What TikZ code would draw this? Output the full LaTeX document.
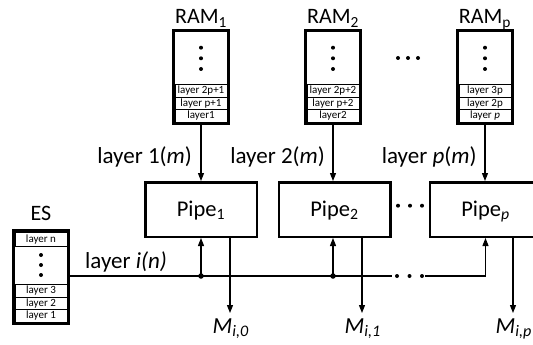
\documentclass[tikz,border=0pt]{standalone}
\usepackage{fontspec}
\setmainfont{Carlito}
\usetikzlibrary{arrows.meta}
\begin{document}
\begin{tikzpicture}[x=1pt,y=-1pt,
  big/.style={font=\fontsize{22}{26}\selectfont, inner sep=0},
  lab/.style={font=\fontsize{23}{27}\selectfont, inner sep=0},
  rowbox/.style={draw, line width=0.9pt, minimum width=52pt, minimum height=12.5pt, inner sep=0, font=\fontsize{11}{11}\selectfont},
  ramframe/.style={draw, line width=3pt, minimum width=55pt, minimum height=93pt, inner sep=0},
  pipebox/.style={draw, line width=2.5pt, minimum width=111.5pt, minimum height=54.5pt, inner sep=0, font=\fontsize{22.5}{26}\selectfont, text height=14pt, text depth=0pt},
  conn/.style={line width=1.1pt},
  arr/.style={conn, -{Triangle[length=8pt,width=6pt]}},
  dotmark/.style={circle, fill, inner sep=0, minimum size=4pt},
  jdot/.style={circle, fill, inner sep=0, minimum size=5.5pt}
]
\useasboundingbox (0,0) rectangle (533,345);
\clip (0,0) rectangle (533,345);

% RAM frames
\node[ramframe] (ram1) at (201,77) {};
\node[ramframe] (ram2) at (333,77) {};
\node[ramframe] (ramp) at (485,77) {};
\node[big, anchor=base] (ramlab1) at (201,24) {RAM\textsubscript{1}};
\node[big, anchor=base] (ramlab2) at (333,24) {RAM\textsubscript{2}};
\node[big, anchor=base] (ramlabp) at (485,24) {RAM\textsubscript{p}};

% RAM rows
\node[rowbox] (r1a) at (201,115.75) {layer1};
\node[rowbox] (r1b) at (201,103.25) {layer p+1};
\node[rowbox] (r1c) at (201,90.75) {layer 2p+1};
\node[rowbox] (r2a) at (333,115.75) {layer2};
\node[rowbox] (r2b) at (333,103.25) {layer p+2};
\node[rowbox] (r2c) at (333,90.75) {layer 2p+2};
\node[rowbox] (rpa) at (485,115.75) {layer \textit{p}};
\node[rowbox] (rpb) at (485,103.25) {layer 2p};
\node[rowbox] (rpc) at (485,90.75) {layer 3p};

% vertical dots in RAM
\foreach \c/\n in {201/a,333/b,485/c}{
  \node[dotmark] (vd1\n) at (\c,47.7) {};
  \node[dotmark] (vd2\n) at (\c,58.3) {};
  \node[dotmark] (vd3\n) at (\c,69) {};
}

% horizontal dots
\node[dotmark] (hd1) at (398,58) {};
\node[dotmark] (hd2) at (408,58) {};
\node[dotmark] (hd3) at (418,58) {};
\node[dotmark] (pd1) at (398,205.7) {};
\node[dotmark] (pd2) at (410,205.7) {};
\node[dotmark] (pd3) at (422,205.7) {};
\node[dotmark] (bd1) at (397,276) {};
\node[dotmark] (bd2) at (409.5,276) {};
\node[dotmark] (bd3) at (422,276) {};

% Pipes
\node[pipebox] (pipe1) at (201,209.5) {Pipe\textsubscript{1}};
\node[pipebox] (pipe2) at (334.5,209.5) {Pipe\textsubscript{2}};
\node[pipebox] (pipep) at (485.5,209.5) {Pipe\textsubscript{\textit{p}}};

% RAM to pipe
\draw[arr] (ram1.south) -- (pipe1.north -| ram1.south);
\draw[arr] (ram2.south) -- (pipe2.north -| ram2.south);
\draw[arr] (ramp.south) -- (pipep.north -| ramp.south);
\node[lab, anchor=base east] (l1) at (192,163) {layer 1(\textit{m})};
\node[lab, anchor=base east] (l2) at (325,163) {layer 2(\textit{m})};
\node[lab, anchor=base east] (lp) at (476.7,163) {layer \textit{p}(\textit{m})};

% ES
\node[ramframe, minimum height=92.7pt] (es) at (41,277.2) {};
\node[big, anchor=base] (eslab) at (41,220.5) {ES};
\node[rowbox, minimum height=13.8pt] (esn) at (41,239.2) {layer n};
\node[rowbox] (es3) at (41,290.75) {layer 3};
\node[rowbox] (es2) at (41,303.25) {layer 2};
\node[rowbox] (es1) at (41,315.75) {layer 1};
\node[dotmark] (ed1) at (41,255) {};
\node[dotmark] (ed2) at (41,265) {};
\node[dotmark] (ed3) at (41,275) {};

% bus
\coordinate (j1) at (201,276);
\coordinate (j2) at (333,276);
\coordinate (b1) at (392,276);
\coordinate (b2) at (425,276);
\coordinate (b3) at (485.5,276);
\draw[conn] (es.east |- j1) -- (b1);
\draw[arr] (b2) -- (b3) -- (pipep.south |- b3) -- (pipep.south);
\node[jdot] (jd1) at (j1) {};
\node[jdot] (jd2) at (j2) {};
\draw[arr] (j1) -- (pipe1.south -| j1);
\draw[arr] (j2) -- (pipe2.south -| j2);
\node[lab, anchor=base west] (li) at (85,268) {layer \textit{i(n)}};

% outputs
\coordinate (o1) at (230,313);
\coordinate (o2) at (362,313);
\coordinate (op) at (513,313);
\draw[arr] (pipe1.south -| o1) -- (o1);
\draw[arr] (pipe2.south -| o2) -- (o2);
\draw[arr] (pipep.south -| op) -- (op);
\node[lab, anchor=base west] (m0) at (212.5,333) {\textit{M}\textsubscript{\textit{i,0}}};
\node[lab, anchor=base west] (m1) at (344.5,333) {\textit{M}\textsubscript{\textit{i,1}}};
\node[lab, anchor=base west] (mp) at (495.5,333) {\textit{M}\textsubscript{\textit{i,p}}};
\end{tikzpicture}
\end{document}
